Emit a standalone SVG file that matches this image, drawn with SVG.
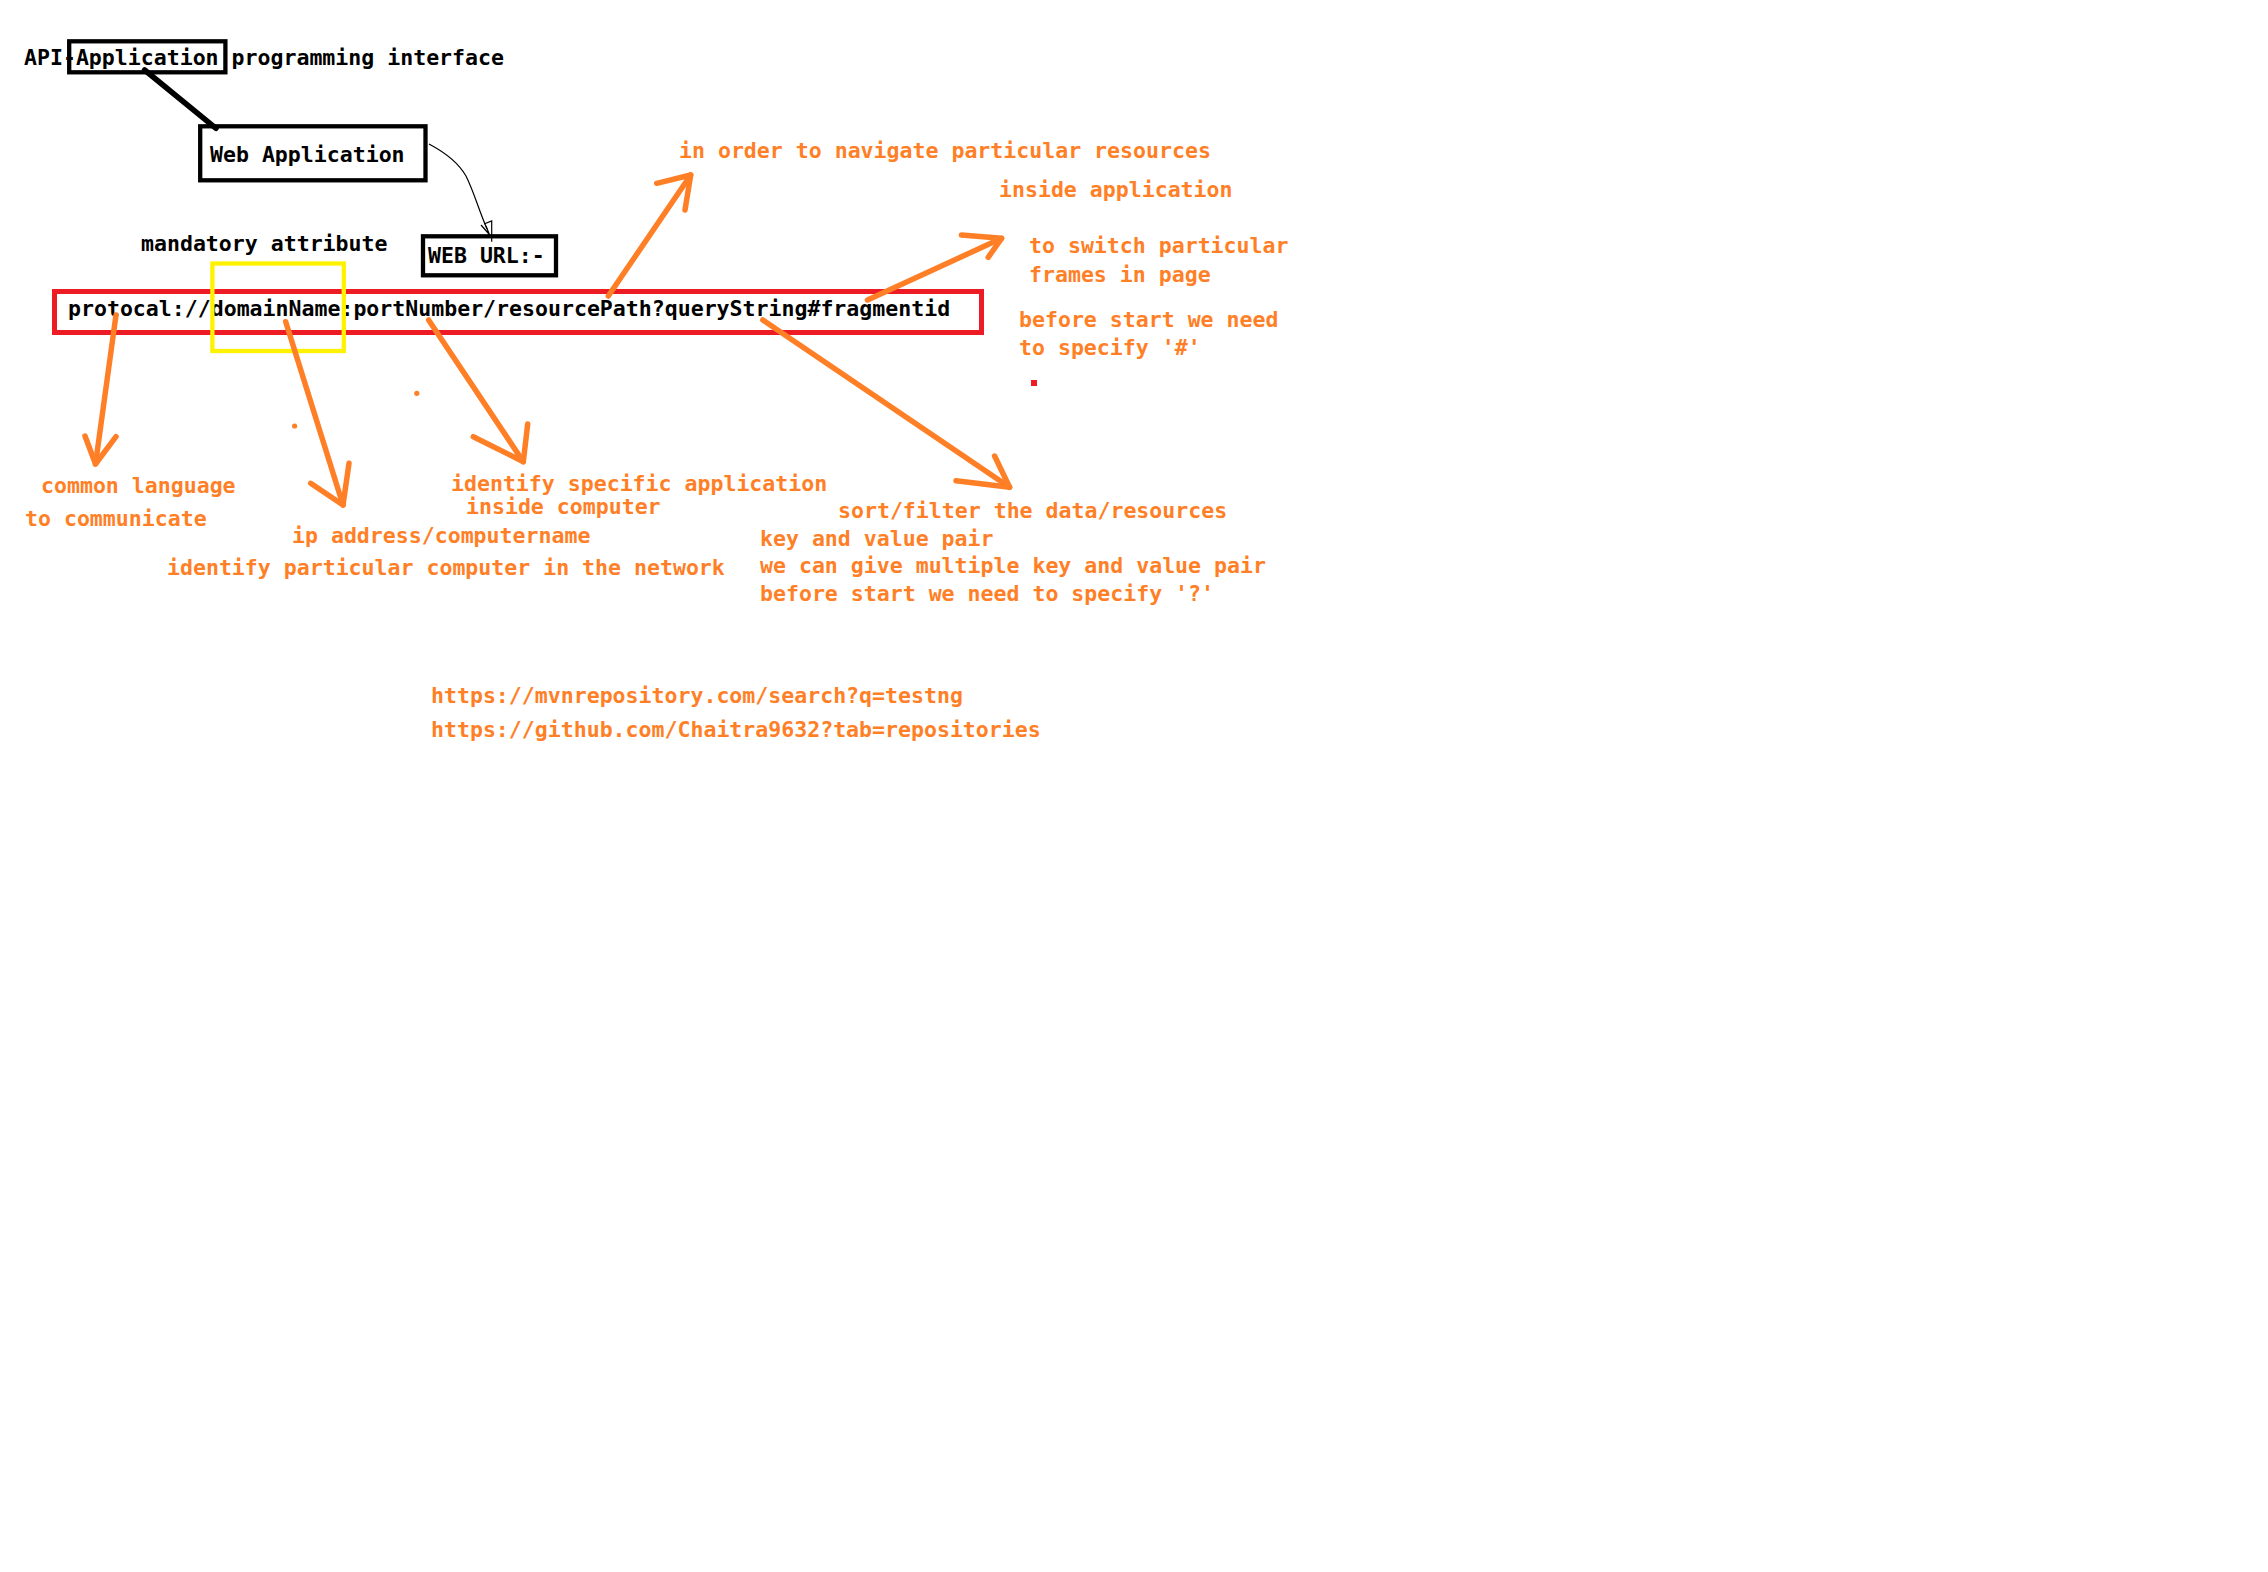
<svg xmlns="http://www.w3.org/2000/svg" width="2268" height="1572" viewBox="0 0 2268 1572">
  <style>
    text { font-family: "DejaVu Sans Mono", "Liberation Mono", monospace; font-weight: bold; font-size: 21.56px; }
    .ink { fill: #000000; }
    .note { fill: #FF7F27; }
    .box { fill: none; stroke: #000000; stroke-width: 4.3; }
    .url-frame { fill: none; stroke: #ED1C24; stroke-width: 5; }
    .hilite { fill: none; stroke: #FFF200; stroke-width: 4.3; }
    .arrow { fill: none; stroke: #FF7F27; stroke-width: 5.5; stroke-linecap: round; stroke-linejoin: round; }
    .link { fill: none; stroke: #000000; stroke-width: 5.5; stroke-linecap: round; }
    .thin { fill: none; stroke: #000000; stroke-width: 1.2; }
  </style>

  <rect width="2268" height="1572" fill="#FFFFFF"/>

  <!-- API definition heading -->
  <g id="api-heading">
    <text class="ink" x="24" y="65">API-Application programming interface</text>
    <rect class="box" x="69.2" y="41.3" width="156.2" height="31"/>
  </g>

  <!-- Web application node -->
  <g id="web-application">
    <rect class="box" x="200.2" y="126.3" width="225.3" height="54"/>
    <text class="ink" x="210" y="162">Web Application</text>
  </g>

  <!-- Web URL label -->
  <g id="web-url">
    <rect class="box" x="423" y="236.3" width="133" height="39"/>
    <text class="ink" x="428" y="263">WEB URL:-</text>
  </g>

  <g id="mandatory-label">
    <text class="ink" x="141" y="251">mandatory attribute</text>
  </g>

  <!-- URL anatomy -->
  <g id="url-structure">
    <rect class="url-frame" x="54.5" y="291.5" width="927" height="41"/>
    <text class="ink" x="68" y="316">protocal://domainName:portNumber/resourcePath?queryString#fragmentid</text>
    <rect class="hilite" x="212.4" y="263.5" width="131.4" height="87.5"/>
  </g>

  <!-- Notes on each URL part -->
  <g id="note-protocol">
    <text class="note" x="41" y="493">common language</text>
    <text class="note" x="25" y="526">to communicate</text>
  </g>
  <g id="note-domain">
    <text class="note" x="292" y="543">ip address/computername</text>
    <text class="note" x="167" y="575">identify particular computer in the network</text>
  </g>
  <g id="note-port">
    <text class="note" x="451" y="491">identify specific application</text>
    <text class="note" x="466" y="514">inside computer</text>
  </g>
  <g id="note-resource">
    <text class="note" x="679" y="158">in order to navigate particular resources</text>
    <text class="note" x="999" y="197">inside application</text>
  </g>
  <g id="note-fragment">
    <text class="note" x="1029" y="253">to switch particular</text>
    <text class="note" x="1029" y="282">frames in page</text>
    <text class="note" x="1019" y="327">before start we need</text>
    <text class="note" x="1019" y="355">to specify '#'</text>
    <rect x="1031" y="380" width="6" height="6" fill="#ED1C24"/>
  </g>
  <g id="note-query">
    <text class="note" x="838" y="518">sort/filter the data/resources</text>
    <text class="note" x="760" y="546">key and value pair</text>
    <text class="note" x="760" y="573">we can give multiple key and value pair</text>
    <text class="note" x="760" y="601">before start we need to specify '?'</text>
  </g>
  <g id="links">
    <text class="note" x="431" y="703">https://mvnrepository.com/search?q=testng</text>
    <text class="note" x="431" y="737">https://github.com/Chaitra9632?tab=repositories</text>
  </g>

  <!-- Connectors -->
  <g id="connectors">
    <line class="link" x1="144.6" y1="70" x2="216" y2="128.3"/>
    <path class="thin" d="M429 144 C 446 153, 458 162, 466 176 C 474 192, 478 208, 487 229"/>
    <path class="thin" d="M484 224 L 491.7 221 L 491.7 241.7 M 481 225 L 489 234 M 486 226 L 490 236"/>

    <!-- protocal -->
    <path class="arrow" d="M116 315 L 95.5 464"/>
    <path class="arrow" d="M85 436 L 95.5 464 L 116 436.7"/>
    <!-- domainName -->
    <path class="arrow" d="M285.7 321.7 L 343 505"/>
    <path class="arrow" d="M310.7 483.3 L 343 505 L 349 463.3"/>
    <!-- portNumber -->
    <path class="arrow" d="M428.6 320 L 523.3 461.7"/>
    <path class="arrow" d="M473.3 436.7 L 523.3 461.7 L 527.7 424"/>
    <!-- resourcePath -->
    <path class="arrow" d="M608.3 296 L 690.7 175"/>
    <path class="arrow" d="M656.7 183.3 L 690.7 175 L 685 210"/>
    <!-- fragmentid -->
    <path class="arrow" d="M867.5 300 L 1001.6 238.3"/>
    <path class="arrow" d="M961.4 235 L 1001.6 238.3 L 988.2 257.3"/>
    <!-- queryString -->
    <path class="arrow" d="M762.8 320 L 1009.6 487.3"/>
    <path class="arrow" d="M956 480.7 L 1009.6 487.3 L 994.6 456"/>

    <circle cx="294.6" cy="426" r="2.6" fill="#FF7F27"/>
    <circle cx="416.8" cy="393.3" r="2.6" fill="#FF7F27"/>
  </g>
</svg>
